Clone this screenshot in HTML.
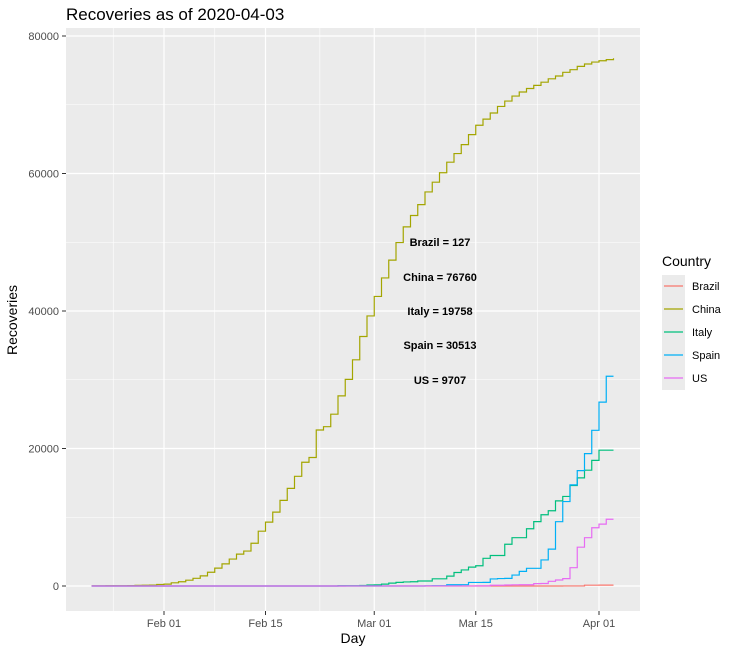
<!DOCTYPE html>
<html><head><meta charset="utf-8">
<style>
body{margin:0;background:#fff;font-family:"Liberation Sans",sans-serif;}
svg text{font-family:"Liberation Sans",sans-serif;}
</style></head>
<body>
<svg id="chart" width="739" height="653" xmlns="http://www.w3.org/2000/svg">
<text x="66" y="20" font-size="17" fill="#000">Recoveries as of 2020-04-03</text>
<rect x="66" y="28" width="574" height="583" fill="#EBEBEB"/>
<g id="grid"></g>
<g id="series"></g>
<g id="axes"></g>
<text x="353" y="643" font-size="14" text-anchor="middle">Day</text>
<text x="17" y="320" font-size="14" text-anchor="middle" transform="rotate(-90 17 320)">Recoveries</text>
<g id="annot" font-size="11" font-weight="bold" text-anchor="middle"></g>
<g id="legend"></g>
</svg>
<script>
const countries=["Brazil","China","Italy","Spain","US"];
const colors=["#F8766D","#A3A500","#00BF7D","#00B0F6","#E76BF3"];
const finalLabels=["Brazil = 127","China = 76760","Italy = 19758","Spain = 30513","US = 9707"];
const yTicks=[0,20000,40000,60000,80000];
const xTickLabels=["Feb 01","Feb 15","Mar 01","Mar 15","Apr 01"];
const xTickDays=[10,24,39,53,70]; // days since Jan 22
// daily cumulative values, Jan 22 .. Apr 03 (73 days)
const china=[28,30,36,39,49,58,101,120,135,214,275,463,614,843,1115,1476,1998,2595,3218,3917,4635,5079,6213,7973,9294,10748,12455,14199,15952,18002,18693,22687,23170,24990,27650,30053,32898,36291,39279,42118,44810,47404,49955,52240,53888,55478,57320,58735,60106,61644,62901,64196,65660,67017,67910,68798,69755,70535,71266,71857,72362,72814,73280,73773,74181,74720,75100,75582,75923,76206,76405,76565,76760];
const italy=[0,0,0,0,0,0,0,0,0,0,0,0,0,0,0,0,0,0,0,0,0,0,0,0,0,0,0,0,0,0,0,1,2,3,45,46,46,83,149,160,276,414,523,589,622,724,724,1045,1045,1439,1966,2335,2749,2941,4025,4440,4440,6072,7024,7024,8326,9362,10361,10950,12384,13030,14620,15729,16847,18278,19758,19758,19758];
const spain=[0,0,0,0,0,0,0,0,0,0,0,0,0,0,0,0,0,0,0,0,0,0,0,0,0,0,0,0,0,0,0,0,0,0,0,0,0,0,0,0,0,2,2,2,2,2,30,32,32,183,183,193,517,517,530,1028,1081,1107,1588,2125,2575,2575,3794,5367,9357,12285,14709,16780,19259,22647,26743,30513,30513];
const us=[0,0,0,0,0,0,0,0,0,0,0,0,0,0,0,0,0,0,0,0,0,0,0,0,0,0,0,0,0,0,3,3,5,5,5,6,6,7,7,7,7,7,7,7,7,7,8,8,8,8,12,12,12,17,17,105,106,147,176,178,178,348,361,681,869,1072,2665,5644,7024,8474,9001,9707,9707];
const brazil=[0,0,0,0,0,0,0,0,0,0,0,0,0,0,0,0,0,0,0,0,0,0,0,0,0,0,0,0,0,0,0,0,0,0,0,0,0,0,0,0,0,0,0,0,0,0,0,0,0,0,0,0,0,0,0,0,0,0,0,2,2,2,2,2,2,6,6,6,120,120,127,127,127];
const seriesData=[brazil,china,italy,spain,us];

const NS="http://www.w3.org/2000/svg";
const X=d=>91.5+d*7.25;
const Y=v=>586-v*(137.5/20000);
function mk(tag,attrs,parent){const e=document.createElementNS(NS,tag);for(const k in attrs)e.setAttribute(k,attrs[k]);parent.appendChild(e);return e;}
const grid=document.getElementById('grid'),axes=document.getElementById('axes');
// minor grid
for(let i=0;i<yTicks.length-1;i++){const v=(yTicks[i]+yTicks[i+1])/2;const l=mk('line',{x1:66,x2:640,y1:Y(v),y2:Y(v),stroke:"#fff","stroke-width":0.6},grid);

}
const minorX=[xTickDays[0]-7].concat(xTickDays.slice(0,-1).map((d,i)=>(d+xTickDays[i+1])/2));
minorX.forEach(d=>{const l=mk('line',{x1:X(d),x2:X(d),y1:28,y2:611,stroke:"#fff","stroke-width":0.6},grid);

});
yTicks.forEach(v=>{const l=mk('line',{x1:66,x2:640,y1:Y(v),y2:Y(v),stroke:"#fff","stroke-width":1.2},grid);


const t=mk('text',{x:59,y:Y(v)+4,"font-size":11,fill:"#4D4D4D","text-anchor":"end"},axes);t.textContent=v;


mk('line',{x1:62,x2:66,y1:Y(v),y2:Y(v),stroke:"#333"},axes);});
xTickDays.forEach((d,i)=>{const l=mk('line',{x1:X(d),x2:X(d),y1:28,y2:611,stroke:"#fff","stroke-width":1.2},grid);


mk('line',{x1:X(d),x2:X(d),y1:611,y2:615,stroke:"#333"},axes);
const t=mk('text',{x:X(d),y:627,"font-size":11,fill:"#4D4D4D","text-anchor":"middle"},axes);t.textContent=xTickLabels[i];

});
// series (step lines)
const sg=document.getElementById('series');
seriesData.forEach((arr,si)=>{let d="M"+X(0)+","+Y(arr[0]);
for(let i=1;i<arr.length;i++){d+=" H"+X(i)+" V"+Y(arr[i]);}
const p=mk('path',{d:d,fill:"none",stroke:colors[si],"stroke-width":1.2},sg);

});
// annotations
const an=document.getElementById('annot');
const annY=[242,277,311,345,380];
finalLabels.forEach((s,i)=>{const t=mk('text',{x:440,y:annY[i]+4},an);t.textContent=s;

});
// legend
const lg=document.getElementById('legend');
const lt=mk('text',{x:662,y:266,"font-size":14},lg);lt.textContent="Country";


countries.forEach((c,i)=>{const y=286+i*23;
const g=mk('g',{},lg);


mk('rect',{x:662,y:y-11,width:23,height:23,fill:"#EBEBEB"},g);
mk('line',{x1:664,x2:683,y1:y,y2:y,stroke:colors[i],"stroke-width":1.2},g);
const t=mk('text',{x:692,y:y+4,"font-size":11},g);t.textContent=c;});
</script>
</body></html>
